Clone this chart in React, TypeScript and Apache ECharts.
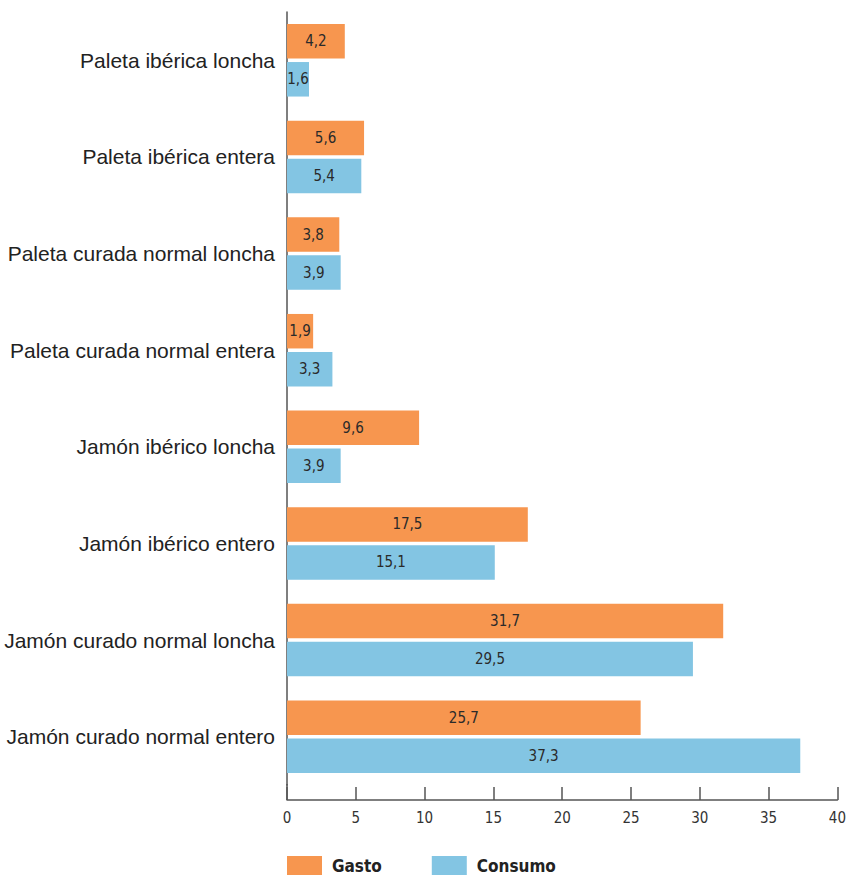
import React, { useEffect, useRef } from "react";
import * as echarts from "echarts";

const categories = [
  "Paleta ibérica loncha",
  "Paleta ibérica entera",
  "Paleta curada normal loncha",
  "Paleta curada normal entera",
  "Jamón ibérico loncha",
  "Jamón ibérico entero",
  "Jamón curado normal loncha",
  "Jamón curado normal entero",
];
const gasto = [4.2, 5.6, 3.8, 1.9, 9.6, 17.5, 31.7, 25.7];
const consumo = [1.6, 5.4, 3.9, 3.3, 3.9, 15.1, 29.5, 37.3];
const seriesNames = ["Gasto", "Consumo"];

const COND = '"Liberation Sans Narrow", "DejaVu Sans Condensed", "Roboto", sans-serif';
const REG = '"Liberation Sans", "Arial", sans-serif';

export default function App() {
  const ref = useRef<HTMLDivElement>(null);
  useEffect(() => {
    if (!ref.current) return;
    const chart = echarts.init(ref.current, null, { renderer: "svg" });
    const fmt = (p: any) => String(p.value).replace(".", ",");
    chart.setOption({
      animation: false,
      backgroundColor: "#ffffff",
      grid: { left: 287, right: 8, top: 12, bottom: 90, containLabel: false },
      legend: {
        left: 282,
        top: 851,
        itemWidth: 35,
        itemHeight: 19,
        itemGap: 50,
        icon: "rect",
        textStyle: {
          fontFamily: COND,
          fontWeight: "bold",
          fontSize: 17,
          color: "#222",
          padding: [0, 0, 0, 5],
        },
        data: seriesNames,
      },
      xAxis: {
        type: "value",
        min: 0,
        max: 40,
        interval: 5,
        offset: 15,
        axisLine: { show: true, lineStyle: { color: "#555", width: 1.5 } },
        axisTick: { show: true, inside: true, length: 13, lineStyle: { color: "#555", width: 1.5 } },
        splitLine: { show: false },
        axisLabel: { fontFamily: COND, fontSize: 15, color: "#333", margin: 10 },
      },
      yAxis: {
        type: "category",
        inverse: true,
        data: categories,
        axisLine: { show: true, lineStyle: { color: "#555", width: 1.5 } },
        axisTick: { show: false },
        axisLabel: { fontFamily: REG, fontSize: 21, color: "#222", margin: 12, padding: [0, 0, 6, 0] },
      },
      graphic: [
        {
          type: "line",
          shape: { x1: 287, y1: 784, x2: 287, y2: 800 },
          style: { stroke: "#555", lineWidth: 1.5 },
        },
      ],
      series: [
        {
          name: seriesNames[0],
          type: "bar",
          data: gasto,
          barGap: "10%",
          barCategoryGap: "25%",
          itemStyle: { color: "#F7964F" },
          label: { show: true, position: "inside", formatter: fmt, fontFamily: COND, fontSize: 15, color: "#2a2a2a" },
        },
        {
          name: seriesNames[1],
          type: "bar",
          data: consumo,
          itemStyle: { color: "#83C5E3" },
          label: { show: true, position: "inside", formatter: fmt, fontFamily: COND, fontSize: 15, color: "#2a2a2a" },
        },
      ],
    });
    return () => chart.dispose();
  }, []);
  return (
    <div
      ref={ref}
      style={{ position: "absolute", left: 0, top: 0, width: 849, height: 875 }}
    />
  );
}
